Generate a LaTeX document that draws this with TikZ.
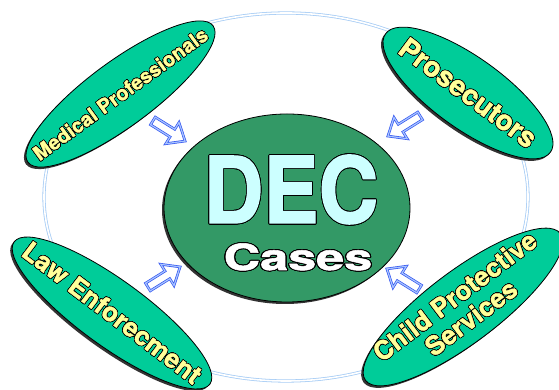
\documentclass[tikz,border=0pt]{standalone}
\usepackage{fontspec}
\setmainfont{TeX Gyre Heros}[BoldFeatures={FakeBold=1.5}]
\usepackage[copies]{contour}
\usetikzlibrary{shapes.geometric,shadows}
\contournumber{24}
\definecolor{ringblue}{HTML}{A8CDF5}
\definecolor{agency}{HTML}{00CC99}
\definecolor{casegreen}{HTML}{339966}
\definecolor{labelyellow}{HTML}{FFFF99}
\definecolor{decice}{HTML}{CCFFFF}
\definecolor{arrowblue}{HTML}{3355F0}
\definecolor{arrowpale}{HTML}{A8C4FF}
\newcommand{\rim}[1]{\contour{black}{#1}}

\begin{document}
\begin{tikzpicture}[x=1pt, y=1pt,
    agency/.style={ellipse, draw=black, line width=0.8pt, fill=agency, inner sep=0pt,
      drop shadow={shadow xshift=-2pt, shadow yshift=-2pt, fill=black!80, opacity=1}},
    agencytext/.style={text=labelyellow, inner sep=0pt, align=center},
    pointer/.pic={\draw[draw=arrowblue, double=arrowpale, double distance=1.2pt, line width=0.7pt, fill=white]
      (-19,-4.5) -- (4,-4.5) -- (4,-12.5) -- (19,0) -- (4,12.5) -- (4,4.5) -- (-19,4.5) -- cycle;}]
  \useasboundingbox (0,0) rectangle (559,390);
  % ring round the agencies
  \draw[ringblue, line width=0.8pt, double=white, double distance=1.6pt] (286,193) ellipse [x radius=242, y radius=184];
  % arrows into the cases
  \pic[rotate=-32] at (169,259) {pointer};
  \pic[rotate=-148] at (404,264) {pointer};
  \pic[rotate=32] at (164,113) {pointer};
  \pic[rotate=148] at (403,111) {pointer};
  % centre
  \node[ellipse, draw=black, line width=0.8pt, fill=casegreen, minimum width=246, minimum height=188, inner sep=0pt,
    drop shadow={shadow xshift=-2pt, shadow yshift=-2pt, fill=black!80, opacity=1}] (dec) at (287,182) {};
  \contourlength{0.8pt}
  \node[anchor=base, text=decice, inner sep=0pt] (dectitle) at (291,167)
    {\scalebox{0.9}[1]{\fontsize{92}{92}\selectfont\bfseries\rim{DEC}}};
  \node[anchor=base, text=white, inner sep=0pt] (cases) at (298,120)
    {\scalebox{1.4}[1]{\fontsize{36}{36}\selectfont\bfseries\rim{Cases}}};
  % agencies
  \contourlength{0.6pt}
  \node[agency, rotate=36.4, minimum width=230, minimum height=65] (medical) at (120.5,296) {};
  \node[agencytext, rotate=36, font=\fontsize{20}{20}\selectfont\bfseries] (medicaltext) at (medical) {\rim{Medical Professionals}};
  \node[agency, rotate=-35.7, minimum width=203, minimum height=71] (prosecutors) at (468,297) {};
  \node[agencytext, rotate=-36.5, font=\fontsize{28}{28}\selectfont\bfseries] (prosecutorstext) at (prosecutors) {\rim{Prosecutors}};
  \node[agency, rotate=-36, minimum width=242, minimum height=66] (law) at (112,77) {};
  \node[agencytext, rotate=-37, font=\fontsize{26}{26}\selectfont\bfseries] (lawtext) at (law) {\rim{Law Enforecment}};
  \node[agency, rotate=37, minimum width=244, minimum height=72] (childservices) at (463,83) {};
  \node[agencytext, rotate=37, font=\fontsize{26}{27}\selectfont\bfseries] (childtext) at (childservices) {\rim{Child Protective}\\\rim{Services}};
\end{tikzpicture}
\end{document}
